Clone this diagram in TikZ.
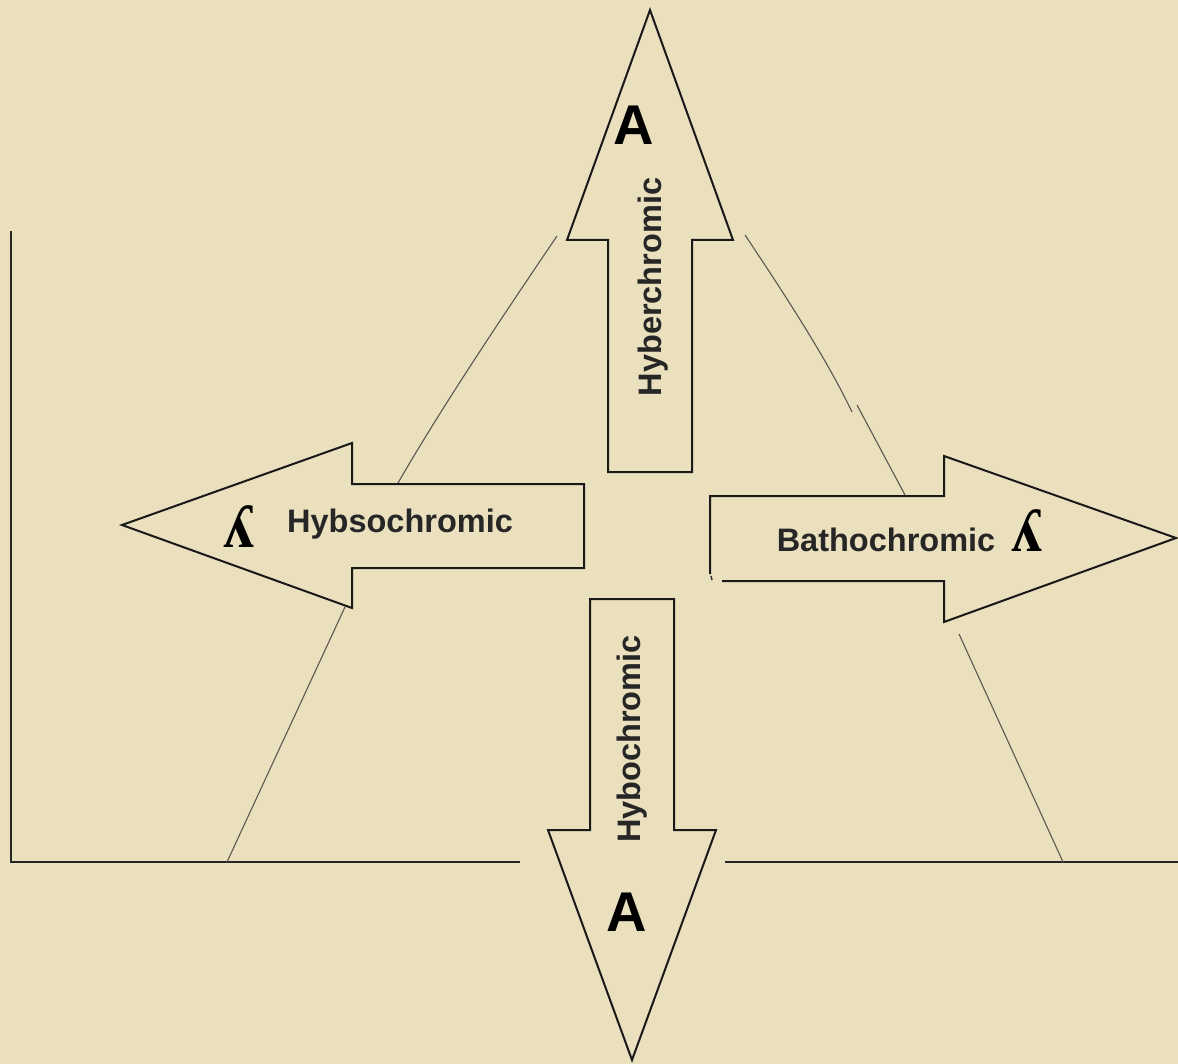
\documentclass[tikz,border=0pt]{standalone}
\usepackage{fontspec}
\setmainfont{Liberation Sans}
\newfontfamily\greekserif{Liberation Serif}
\definecolor{bgc}{RGB}{234,224,190}
\definecolor{curvec}{RGB}{90,88,80}
\begin{document}
\begin{tikzpicture}[x=1pt,y=-1pt,
  axisline/.style={line width=2pt,black!85},
  curveline/.style={line width=1.1pt,curvec},
  blockarrow/.style={line width=2pt,black!90,fill=bgc,line join=miter},
  lbl/.style={font=\fontsize{32.5}{36}\selectfont\bfseries,text=black!85,inner sep=0pt},
  bigA/.style={font=\fontsize{56}{60}\selectfont\bfseries,inner sep=0pt},
  lam/.style={font=\fontsize{62}{66}\selectfont\greekserif\bfseries,inner sep=0pt}]
\fill[bgc] (0,0) rectangle (1178,1064);
\useasboundingbox (0,0) rectangle (1178,1064);
% axes
\coordinate (ytop) at (11,231);
\coordinate (orig) at (11,862);
\coordinate (xa) at (520,862);
\coordinate (xb) at (725,862);
\coordinate (xend) at (1178,862);
\draw[axisline] (ytop) -- (orig) -- (xa);
\draw[axisline] (xb) -- (xend);
% absorption curve (visible pieces)
\coordinate (c1a) at (227,862); \coordinate (c1b) at (345,607);
\coordinate (c2a) at (398,483); \coordinate (c2b) at (557,236);
\coordinate (c3a) at (745,235); \coordinate (c3b) at (852,412);
\coordinate (c4a) at (857,405); \coordinate (c4b) at (905,495);
\coordinate (c5a) at (959,634); \coordinate (c5b) at (1063,862);
\draw[curveline] (c1a) -- (c1b);
\draw[curveline] (c2a) .. controls (440,410) and (500,320) .. (c2b);
\draw[curveline] (c3a) .. controls (775,280) and (825,355) .. (c3b);
\draw[curveline] (c4a) -- (c4b);
\draw[curveline] (c5a) -- (c5b);
% up arrow
\draw[blockarrow] (650,10) -- (733,240) -- (692,240) -- (692,472) -- (608,472) -- (608,240) -- (567,240) -- cycle;
% down arrow
\draw[blockarrow] (632,1060) -- (716,830) -- (674,830) -- (674,599) -- (590,599) -- (590,830) -- (548,830) -- cycle;
% left arrow
\draw[blockarrow] (122,525) -- (352,443) -- (352,484) -- (584,484) -- (584,568) -- (352,568) -- (352,608) -- cycle;
% right arrow (with small gap at lower left corner)
\draw[blockarrow,fill=none] (722,581) -- (944,581) -- (944,622) -- (1176,538) -- (944,456) -- (944,496) -- (710,496) -- (710,574);
\draw[line width=1.5pt,black!80] (711,576) -- (712,580);
% labels
\node[bigA] (aup) at (634,125) {A};
\node[bigA] (adown) at (627,912) {A};
\node[lbl,rotate=90] (hyper) at (653,287) {Hyberchromic};
\node[lbl,rotate=90] (hypo) at (632,739) {Hybochromic};
\node[lbl] (hypso) at (400,524) {Hybsochromic};
\node[lbl] (batho) at (886,540) {Bathochromic};
\node[lam] (laml) at (239,527) {ʎ};
\node[lam] (lamr) at (1027,531) {ʎ};
\end{tikzpicture}
\end{document}
